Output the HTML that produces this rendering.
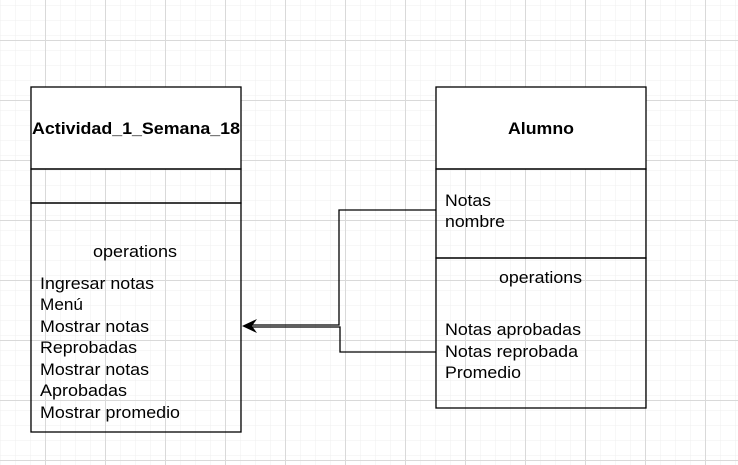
<!DOCTYPE html>
<html><head><style>body{margin:0}svg{display:block}text{font-family:"Liberation Sans",Arial,sans-serif;font-size:17px}</style></head><body>
<svg width="738" height="465" xmlns="http://www.w3.org/2000/svg">
<defs>
<pattern id="g1" width="15" height="15" patternUnits="userSpaceOnUse" x="0" y="10">
<path d="M0 0H15M0 0V15" stroke="#efefef" stroke-width="1" fill="none"/></pattern>
<pattern id="g2" width="60" height="60" patternUnits="userSpaceOnUse" x="45" y="40">
<rect width="60" height="60" fill="url(#g1)"/>
<path d="M0 0.5H60M0.5 0V60" stroke="#d9d9d9" stroke-width="1" fill="none"/></pattern>
</defs>
<rect width="738" height="465" fill="#fff"/>
<rect width="738" height="465" fill="url(#g2)"/>
<g stroke="#000" stroke-width="1.3">
<rect x="31" y="87" width="210" height="82" fill="#fff"/>
<rect x="31" y="169" width="210" height="34" fill="none"/>
<rect x="31" y="203" width="210" height="229" fill="none"/>
<rect x="436" y="87" width="210" height="82" fill="#fff"/>
<rect x="436" y="169" width="210" height="89" fill="none"/>
<rect x="436" y="258" width="210" height="150" fill="none"/>
<path d="M436 210H339V325H250M436 352H340V327H250" fill="none"/>
</g>
<path d="M242 326L257 319L252 326L257 333Z" fill="#000"/>
<g font-weight="bold" lengthAdjust="spacingAndGlyphs">
<text x="32" y="134" textLength="208" lengthAdjust="spacingAndGlyphs">Actividad_1_Semana_18</text>
<text x="508" y="134" textLength="66" lengthAdjust="spacingAndGlyphs">Alumno</text>
</g>
<text x="93" y="257" textLength="84" lengthAdjust="spacingAndGlyphs">operations</text>
<text x="499" y="283" textLength="83" lengthAdjust="spacingAndGlyphs">operations</text>
<text x="40" y="289" textLength="114" lengthAdjust="spacingAndGlyphs">Ingresar notas</text>
<text x="40" y="310" textLength="43" lengthAdjust="spacingAndGlyphs">Menú</text>
<text x="40" y="332" textLength="109" lengthAdjust="spacingAndGlyphs">Mostrar notas</text>
<text x="40" y="353" textLength="97" lengthAdjust="spacingAndGlyphs">Reprobadas</text>
<text x="40" y="375" textLength="109" lengthAdjust="spacingAndGlyphs">Mostrar notas</text>
<text x="40" y="396" textLength="87" lengthAdjust="spacingAndGlyphs">Aprobadas</text>
<text x="40" y="418" textLength="140" lengthAdjust="spacingAndGlyphs">Mostrar promedio</text>
<text x="445" y="206" textLength="46" lengthAdjust="spacingAndGlyphs">Notas</text>
<text x="445" y="227" textLength="60" lengthAdjust="spacingAndGlyphs">nombre</text>
<text x="445" y="335" textLength="136" lengthAdjust="spacingAndGlyphs">Notas aprobadas</text>
<text x="445" y="357" textLength="133" lengthAdjust="spacingAndGlyphs">Notas reprobada</text>
<text x="445" y="378" textLength="76" lengthAdjust="spacingAndGlyphs">Promedio</text>
</svg>
</body></html>
